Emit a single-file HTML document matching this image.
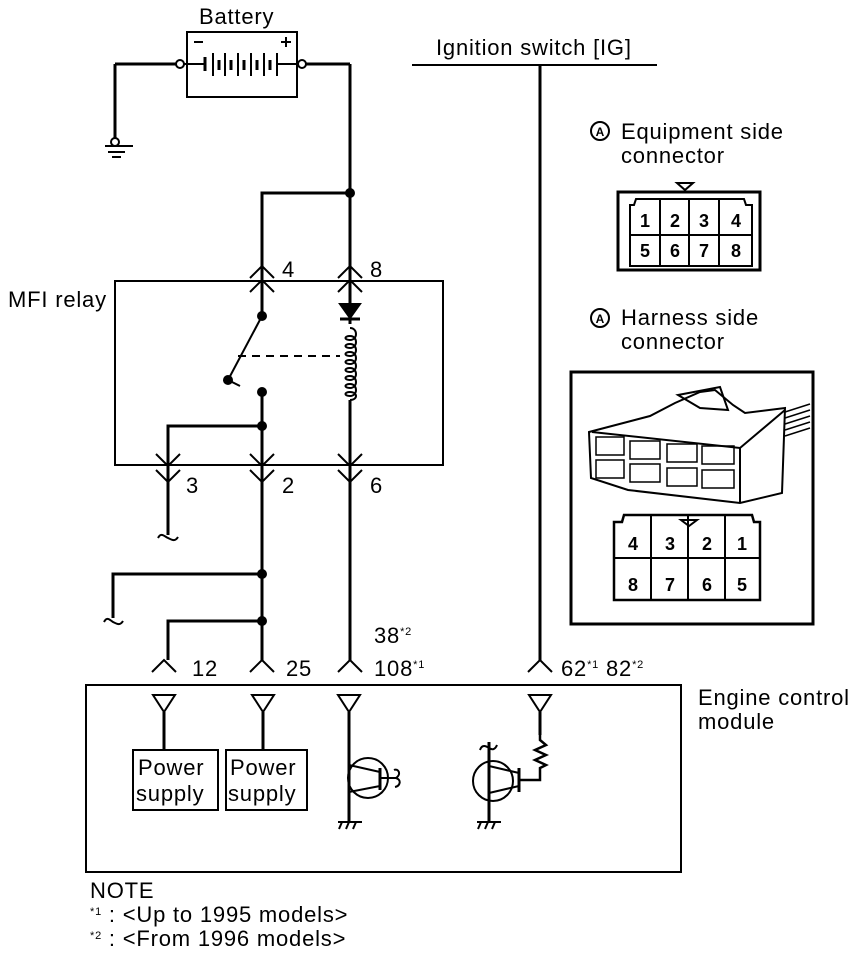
<!DOCTYPE html>
<html><head><meta charset="utf-8"><style>
html,body{margin:0;padding:0;background:#fff;}
svg{display:block;}
text{font-family:"Liberation Sans",sans-serif;fill:#000;}
</style></head><body>
<svg width="864" height="966" viewBox="0 0 864 966" xmlns="http://www.w3.org/2000/svg">
<g stroke="#000" fill="none" stroke-width="2">
<!-- Battery -->
<rect x="187" y="32" width="110" height="65"/>
<line x1="115" y1="64" x2="176" y2="64" stroke-width="3"/>
<circle cx="180" cy="64" r="4" fill="#fff"/>
<line x1="184" y1="64" x2="205" y2="64"/>
<line x1="205" y1="57" x2="205" y2="71" stroke-width="3"/>
<line x1="213" y1="53" x2="213" y2="76"/><line x1="219" y1="60" x2="219" y2="70" stroke-width="3"/>
<line x1="225" y1="53" x2="225" y2="76"/><line x1="231" y1="60" x2="231" y2="70" stroke-width="3"/>
<line x1="238" y1="53" x2="238" y2="76"/><line x1="244" y1="60" x2="244" y2="70" stroke-width="3"/>
<line x1="251" y1="53" x2="251" y2="76"/><line x1="257" y1="60" x2="257" y2="70" stroke-width="3"/>
<line x1="264" y1="53" x2="264" y2="76"/><line x1="270" y1="60" x2="270" y2="70" stroke-width="3"/>
<line x1="277" y1="53" x2="277" y2="76"/>
<line x1="277" y1="64" x2="298" y2="64"/>
<circle cx="302" cy="64" r="4" fill="#fff"/>
<line x1="306" y1="64" x2="350" y2="64" stroke-width="3"/>
<line x1="194" y1="42" x2="203" y2="42"/>
<line x1="281" y1="42" x2="291" y2="42"/><line x1="286" y1="37" x2="286" y2="47"/>
<!-- ground -->
<line x1="115" y1="64" x2="115" y2="139" stroke-width="3"/>
<circle cx="115" cy="142" r="4" fill="#fff"/>
<line x1="105" y1="146" x2="133" y2="146"/>
<line x1="108" y1="152" x2="125" y2="152"/>
<line x1="112" y1="157" x2="121" y2="157"/>
<!-- main feed -->
<line x1="350" y1="64" x2="350" y2="465" stroke-width="3"/>
<polyline points="350,193 262,193 262,316" stroke-width="3"/>
<!-- relay box -->
<rect x="115" y="281" width="328" height="184"/>
<!-- top connectors -->
<polyline points="250,278 262,266 274,278"/><polyline points="250,292 262,280 274,292"/>
<polyline points="338,278 350,266 362,278"/><polyline points="338,292 350,280 362,292"/>
<!-- switch -->
<line x1="262" y1="316" x2="228" y2="380" stroke-width="2"/>
<line x1="238" y1="356" x2="340" y2="356" stroke-dasharray="8,6"/>
<line x1="228" y1="380" x2="240" y2="386"/>
<polyline points="262,392 262,465" stroke-width="3"/>
<polyline points="262,426 168,426 168,535" stroke-width="3"/>
<!-- diode -->
<path d="M340,304 L360,304 L350,318 Z" fill="#000"/>
<line x1="340" y1="319" x2="360" y2="319" stroke-width="3"/>
<!-- coil -->
<rect x="346" y="324" width="8" height="76" fill="#fff" stroke="none"/>
<path d="M350,328 c8,0 8,12 0,12 c-6,0 -6,-4 0,-4 c8,0 8,12 0,12 c-6,0 -6,-4 0,-4 c8,0 8,12 0,12 c-6,0 -6,-4 0,-4 c8,0 8,12 0,12 c-6,0 -6,-4 0,-4 c8,0 8,12 0,12 c-6,0 -6,-4 0,-4 c8,0 8,12 0,12 c-6,0 -6,-4 0,-4 c8,0 8,12 0,12 c-6,0 -6,-4 0,-4 c8,0 8,12 0,12 c-6,0 -6,-4 0,-4 c8,0 8,8 0,8" stroke-width="2"/>
<!-- bottom connectors -->
<polyline points="156,454 168,466 180,454"/><polyline points="156,470 168,482 180,470"/>
<polyline points="250,454 262,466 274,454"/><polyline points="250,470 262,482 274,470"/>
<polyline points="338,454 350,466 362,454"/><polyline points="338,470 350,482 362,470"/>
<path d="M158,538 c3,-6 6,-2 10,0 c4,2 7,4 10,-1" stroke-width="2"/>
<!-- pin 2 down -->
<line x1="262" y1="465" x2="262" y2="660" stroke-width="3"/>
<polyline points="262,574 113,574 113,618" stroke-width="3"/>
<path d="M104,622 c3,-6 6,-2 9,0 c4,2 7,4 10,-1" stroke-width="2"/>
<polyline points="262,621 168,621 168,660" stroke-width="3"/>
<line x1="350" y1="465" x2="350" y2="660" stroke-width="3"/>
<!-- IG -->
<line x1="412" y1="65" x2="657" y2="65"/>
<line x1="540" y1="65" x2="540" y2="660" stroke-width="3"/>
<!-- ECM pins -->
<polyline points="152,672 164,660 176,672"/>
<polyline points="250,672 262,660 274,672"/>
<polyline points="338,672 350,660 362,672"/>
<polyline points="528,672 540,660 552,672"/>
<!-- ECM box -->
<rect x="86" y="685" width="595" height="187"/>
<path d="M153,695 L175,695 L164,712 Z"/><line x1="164" y1="712" x2="164" y2="750" stroke-width="3"/>
<path d="M252,695 L274,695 L263,712 Z"/><line x1="263" y1="712" x2="263" y2="750" stroke-width="3"/>
<path d="M338,695 L360,695 L349,712 Z"/><line x1="349" y1="712" x2="349" y2="822" stroke-width="3"/>
<path d="M529,695 L551,695 L540,712 Z"/><line x1="540" y1="712" x2="540" y2="735" stroke-width="3"/>
<rect x="133" y="750" width="85" height="60"/>
<rect x="226" y="750" width="81" height="60"/>
<!-- transistor 1 -->
<circle cx="368" cy="778" r="20"/>
<line x1="349" y1="765" x2="380" y2="772"/>
<line x1="380" y1="768" x2="380" y2="790" stroke-width="3"/>
<line x1="349" y1="792" x2="380" y2="786"/>
<path d="M380,778 L396,778 c6,-4 2,-10 -2,-8 M396,778 c6,2 4,8 -1,9"/>
<line x1="338" y1="822" x2="362" y2="822"/>
<line x1="342" y1="822" x2="339" y2="829"/><line x1="349" y1="822" x2="346" y2="829"/><line x1="356" y1="822" x2="353" y2="829"/>
<!-- transistor 2 -->
<circle cx="493" cy="781" r="20"/>
<line x1="489" y1="742" x2="489" y2="822" stroke-width="3"/>
<path d="M480,750 c2,-6 6,-4 9,-2 c3,2 6,2 8,-3"/>
<line x1="489" y1="766" x2="519" y2="773"/>
<line x1="519" y1="768" x2="519" y2="792" stroke-width="3"/>
<line x1="489" y1="793" x2="519" y2="786"/>
<polyline points="540,735 540,740 546,745 535,750 546,755 535,760 546,765 540,768 540,780 519,780" stroke-width="2.5"/>
<line x1="477" y1="822" x2="501" y2="822"/>
<line x1="481" y1="822" x2="478" y2="829"/><line x1="488" y1="822" x2="485" y2="829"/><line x1="495" y1="822" x2="492" y2="829"/>
<!-- Equipment connector -->
<path d="M618,192 L760,192 L760,270 L618,270 Z" stroke-width="3"/>
<path d="M630,205 L630,266 L752,266 L752,205 L746,205 L744,199 L636,199 L634,205 Z"/>
<line x1="630" y1="235" x2="752" y2="235"/>
<line x1="660" y1="199" x2="660" y2="266"/><line x1="689" y1="199" x2="689" y2="266"/><line x1="719" y1="199" x2="719" y2="266"/>
<path d="M677,183 L693,183 L685,190 Z"/>
<!-- Harness box -->
<rect x="571" y="372" width="242" height="252" stroke-width="3"/>
<path d="M614,522 L614,600 L760,600 L760,522 L754,522 L752,515 L624,515 L622,522 Z" stroke-width="2.5"/>
<line x1="614" y1="558" x2="760" y2="558"/>
<line x1="651" y1="515" x2="651" y2="600"/><line x1="688" y1="515" x2="688" y2="600"/><line x1="725" y1="515" x2="725" y2="600"/>
<path d="M681,520 L697,520 L689,526 Z"/>
<!-- 3D connector sketch -->
<path d="M589,432 L650,416 L675,403 L700,392 L715,390 L733,405 L745,413 L785,408 L782,493 L740,503 L628,490 L591,478 Z"/>
<path d="M592,432 L740,448 L785,410"/><line x1="740" y1="448" x2="740" y2="503"/>
<path d="M678,395 L720,387 L728,410 L700,408 Z"/>
<g stroke-width="1.5">
<rect x="596" y="437" width="28" height="18"/><rect x="630" y="441" width="30" height="18"/><rect x="667" y="444" width="30" height="18"/><rect x="702" y="446" width="32" height="18"/>
<rect x="596" y="460" width="28" height="18"/><rect x="630" y="464" width="30" height="18"/><rect x="667" y="468" width="30" height="18"/><rect x="702" y="470" width="32" height="18"/>
<path d="M785,412 L810,404 M785,418 L810,410 M785,424 L810,416 M785,430 L810,422 M785,436 L810,428"/>
</g>
</g>
<g fill="#000">
<circle cx="350" cy="193" r="5"/>
<circle cx="262" cy="316" r="5"/>
<circle cx="228" cy="380" r="5"/>
<circle cx="262" cy="392" r="5"/>
<circle cx="262" cy="426" r="5"/>
<circle cx="262" cy="574" r="5"/>
<circle cx="262" cy="621" r="5"/>
</g>
<g font-size="22" letter-spacing="0.8">
<text x="199" y="24">Battery</text>
<text x="436" y="55">Ignition switch [IG]</text>
<text x="8" y="307">MFI relay</text>
<text x="282" y="277">4</text><text x="370" y="277">8</text>
<text x="186" y="493">3</text><text x="282" y="493">2</text><text x="370" y="493">6</text>
<text x="192" y="676">12</text><text x="286" y="676">25</text>
<text x="374" y="643">38<tspan font-size="11" dy="-8">*2</tspan></text>
<text x="374" y="676">108<tspan font-size="11" dy="-8">*1</tspan></text>
<text x="561" y="676">62<tspan font-size="11" dy="-8">*1</tspan><tspan dy="8"> 82</tspan><tspan font-size="11" dy="-8">*2</tspan></text>
<text x="698" y="705">Engine control</text>
<text x="698" y="729">module</text>
<text x="138" y="775">Power</text><text x="136" y="801">supply</text>
<text x="230" y="775">Power</text><text x="228" y="801">supply</text>
<text x="621" y="139">Equipment side</text>
<text x="621" y="163">connector</text>
<text x="621" y="325">Harness side</text>
<text x="621" y="349">connector</text>
<text x="90" y="898">NOTE</text>
<text x="90" y="922"><tspan font-size="11" dy="-7">*1</tspan><tspan dy="7"> :  &lt;Up to 1995 models&gt;</tspan></text>
<text x="90" y="946"><tspan font-size="11" dy="-7">*2</tspan><tspan dy="7"> :  &lt;From 1996 models&gt;</tspan></text>
</g>
<g font-size="18" font-weight="bold" text-anchor="middle">
<text x="645" y="227">1</text><text x="675" y="227">2</text><text x="704" y="227">3</text><text x="736" y="227">4</text>
<text x="645" y="257">5</text><text x="675" y="257">6</text><text x="704" y="257">7</text><text x="736" y="257">8</text>
<text x="633" y="550">4</text><text x="670" y="550">3</text><text x="707" y="550">2</text><text x="742" y="550">1</text>
<text x="633" y="591">8</text><text x="670" y="591">7</text><text x="707" y="591">6</text><text x="742" y="591">5</text>
</g>
<g stroke="#000" stroke-width="2" fill="#fff">
<circle cx="600" cy="131" r="9"/><circle cx="600" cy="318" r="9"/>
</g>
<g font-size="12" font-weight="bold" text-anchor="middle">
<text x="600" y="136">A</text><text x="600" y="323">A</text>
</g>
</svg>
</body></html>
